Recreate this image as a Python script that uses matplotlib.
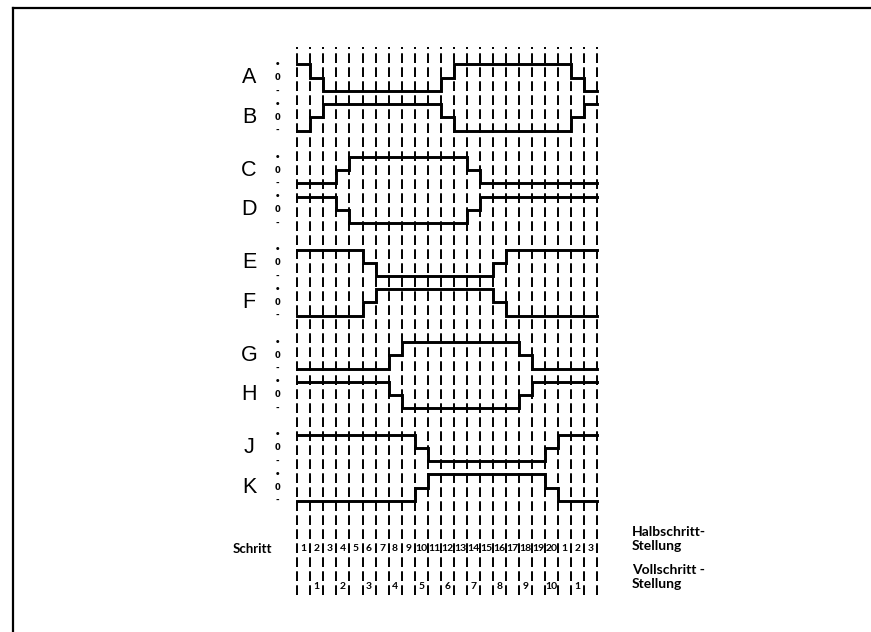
import numpy as np
import matplotlib
matplotlib.use("Agg")
import matplotlib.pyplot as plt
from matplotlib.lines import Line2D

# phase currents per half step (+1 / 0 / -1), 23 half steps shown
names = ["A", "B", "C", "D", "E", "F", "G", "H", "J", "K"]
A = [1, 0, -1, -1, -1, -1, -1, -1, -1, -1, -1, 0, 1, 1, 1, 1, 1, 1, 1, 1, 1, 0, -1]
B = [-1, 0, 1, 1, 1, 1, 1, 1, 1, 1, 1, 0, -1, -1, -1, -1, -1, -1, -1, -1, -1, 0, 1]
C = [-1, -1, -1, 0, 1, 1, 1, 1, 1, 1, 1, 1, 1, 0, -1, -1, -1, -1, -1, -1, -1, -1, -1]
D = [1, 1, 1, 0, -1, -1, -1, -1, -1, -1, -1, -1, -1, 0, 1, 1, 1, 1, 1, 1, 1, 1, 1]
E = [1, 1, 1, 1, 1, 0, -1, -1, -1, -1, -1, -1, -1, -1, -1, 0, 1, 1, 1, 1, 1, 1, 1]
F = [-1, -1, -1, -1, -1, 0, 1, 1, 1, 1, 1, 1, 1, 1, 1, 0, -1, -1, -1, -1, -1, -1, -1]
G = [-1, -1, -1, -1, -1, -1, -1, 0, 1, 1, 1, 1, 1, 1, 1, 1, 1, 0, -1, -1, -1, -1, -1]
H = [1, 1, 1, 1, 1, 1, 1, 0, -1, -1, -1, -1, -1, -1, -1, -1, -1, 0, 1, 1, 1, 1, 1]
J = [1, 1, 1, 1, 1, 1, 1, 1, 1, 0, -1, -1, -1, -1, -1, -1, -1, -1, -1, 0, 1, 1, 1]
K = [-1, -1, -1, -1, -1, -1, -1, -1, -1, 0, 1, 1, 1, 1, 1, 1, 1, 1, 1, 0, -1, -1, -1]
signals = [A, B, C, D, E, F, G, H, J, K]

half_steps = [str(i) for i in range(1, 21)] + ["1", "2", "3"]
full_steps = [str(i) for i in range(1, 11)] + ["1"]
full_pos = np.arange(1, 23, 2)  # full step positions sit on every second half step

n = len(half_steps)
xs = np.arange(n + 1)

# channel zero lines: pairs 7 units apart, channels within a pair 3 units apart
centers = [-(7 * (i // 2) + 3 * (i % 2)) for i in range(len(names))]

fig = plt.figure(figsize=(8.71, 6.32), dpi=100)
ax = fig.add_axes([0, 0, 1, 1])
ax.set_xlim(-297.3 / 13.04, (871 - 297.3) / 13.04)
ax.set_ylim(-(632 - 77.7) / 13.22, 77.7 / 13.22)
ax.axis("off")

# step grid
ax.vlines(xs, -39.1, 2.3, colors="black", linewidth=1.4,
          linestyles=(0, (5, 2.2)))

for name, sig, c in zip(names, signals, centers):
    y = np.array(sig + [sig[-1]]) + c
    ax.step(xs, y, where="post", color="black", linewidth=2.1, solid_joinstyle="miter")
    ax.text(-3.7, c, name, fontsize=15.5, family="Liberation Sans",
            ha="center", va="center")
    for lvl, mark in zip([1, 0, -1], ["•", "0", "-"]):
        ax.text(-1.5, c + lvl, mark, fontsize=6, fontweight="bold",
                ha="center", va="center")

cond = ["Lato", "DejaVu Sans"]
for i, lab in enumerate(half_steps):
    ax.text(i + 0.5, -35.65, lab, fontsize=7.5, fontweight="bold", family=cond,
            ha="center", va="center")
for p, lab in zip(full_pos, full_steps):
    ax.text(p + 0.5, -38.5, lab, fontsize=7.5, fontweight="bold", family=cond,
            ha="center", va="center")

ax.text(-3.45, -35.65, "Schritt", fontsize=9.5, fontweight="bold", family=cond,
        ha="center", va="center")
ax.text(25.67, -34.9, "Halbschritt-\nStellung", fontsize=10, fontweight="bold",
        family=cond, ha="left", va="center", linespacing=1.25)
ax.text(25.67, -37.77, "Vollschritt -\nStellung", fontsize=10, fontweight="bold",
        family=cond, ha="left", va="center", linespacing=1.25)

# page border, top and left
fig.add_artist(Line2D([13 / 871, 1], [1 - 8 / 632, 1 - 8 / 632], color="black", linewidth=1.6))
fig.add_artist(Line2D([13 / 871, 13 / 871], [0, 1 - 8 / 632], color="black", linewidth=1.6))

fig.savefig("out.png", dpi=100, facecolor="white")
